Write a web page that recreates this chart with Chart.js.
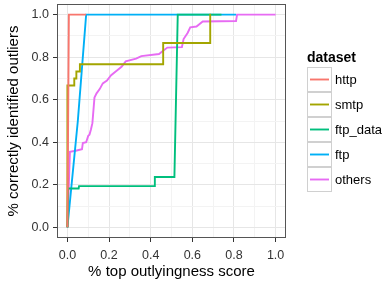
<!DOCTYPE html>
<html lang="en">
<head>
<meta charset="UTF-8">
<title>Outlier detection</title>
<script src="https://cdn.jsdelivr.net/npm/chart.js"></script>
<style>
  html, body { margin: 0; padding: 0; background: #fff; }
  #wrap { width: 390px; height: 286px; }
</style>
</head>
<body>
<div id="wrap"><canvas id="graf"></canvas></div>
<script>
// series names and colours (ggplot hue palette)
const seriesNames = ['http', 'smtp', 'ftp_data', 'ftp', 'others'];
const seriesColors = ['#F8766D', '#A3A500', '#00BF7D', '#00B0F6', '#E76BF3'];

// x = % top outlyingness score, y = % correctly identified outliers
const httpX = [0, 0.007, 0.09];
const httpY = [0, 1.0, 1.0];

const smtpX = [0, 0, 0.033, 0.033, 0.043, 0.043, 0.06, 0.06, 0.46, 0.46, 0.686, 0.686, 0.69];
const smtpY = [0, 0.667, 0.667, 0.70, 0.70, 0.733, 0.733, 0.767, 0.767, 0.867, 0.867, 1.0, 1.0];

const ftpDataX = [0, 0.003, 0.054, 0.056, 0.418, 0.42, 0.514, 0.53, 0.74];
const ftpDataY = [0, 0.183, 0.183, 0.194, 0.194, 0.237, 0.237, 1.0, 1.0];

const ftpX = [0, 0.05, 0.09, 0.81];
const ftpY = [0, 0.5, 1.0, 1.0];

const othersX = [0, 0.012, 0.04, 0.07, 0.074, 0.09, 0.1, 0.106, 0.113, 0.12, 0.125, 0.13, 0.14, 0.155, 0.17,
  0.19, 0.21, 0.235, 0.26, 0.28, 0.33, 0.355, 0.44, 0.46, 0.48, 0.55, 0.558, 0.578, 0.59, 0.62, 0.65, 0.81, 0.815, 1.0];
const othersY = [0, 0.355, 0.36, 0.367, 0.396, 0.40, 0.43, 0.435, 0.46, 0.49, 0.55, 0.61, 0.63, 0.65, 0.677,
  0.69, 0.715, 0.735, 0.755, 0.78, 0.793, 0.805, 0.815, 0.83, 0.845, 0.847, 0.885, 0.915, 0.94, 0.944, 0.968, 0.97, 1.0, 1.0];

const seriesX = [httpX, smtpX, ftpDataX, ftpX, othersX];
const seriesY = [httpY, smtpY, ftpDataY, ftpY, othersY];

const majorTicks = [0, 0.2, 0.4, 0.6, 0.8, 1.0];
const minorTicks = [0.1, 0.3, 0.5, 0.7, 0.9];
const xTitle = '% top outlyingness score';
const yTitle = '% correctly identified outliers';
const legendTitle = 'dataset';

const FONT = '"Liberation Sans", Arial, sans-serif';
const isMajor = v => majorTicks.some(m => Math.abs(m - v) < 1e-6);

function setTicks(scale) {
  scale.ticks = majorTicks.concat(minorTicks).sort((a, b) => a - b).map(v => ({ value: v }));
}

const axisOpts = {
  type: 'linear',
  min: -0.05,
  max: 1.05,
  afterBuildTicks: setTicks,
  border: { display: false },
  grid: {
    color: c => isMajor(c.tick.value) ? '#E6E6E6' : '#F3F3F3',
    lineWidth: 1,
    tickLength: 4,
    tickColor: c => isMajor(c.tick.value) ? '#333333' : 'rgba(0,0,0,0)'
  },
  ticks: {
    color: '#333333',
    font: { family: FONT, size: 12.5 },
    padding: 4,
    autoSkip: false,
    maxRotation: 0,
    callback: v => isMajor(v) ? v.toFixed(1) : ''
  }
};

const datasets = seriesNames.map((name, i) => ({
  label: name,
  data: seriesX[i].map((x, j) => ({ x: x, y: seriesY[i][j] })),
  borderColor: seriesColors[i],
  backgroundColor: seriesColors[i],
  borderWidth: 1.9,
  pointRadius: 0,
  tension: 0,
  fill: false
}));

const panelBorder = {
  id: 'panelBorder',
  afterDatasetsDraw(chart) {
    const a = chart.chartArea;
    const ctx = chart.ctx;
    ctx.save();
    ctx.strokeStyle = '#555555';
    ctx.lineWidth = 1;
    ctx.strokeRect(Math.round(a.left) + 0.5, Math.round(a.top) + 0.5,
      Math.round(a.right - a.left) - 1, Math.round(a.bottom - a.top) - 1);
    ctx.restore();
  }
};

const ggLegend = {
  id: 'ggLegend',
  afterDraw(chart) {
    const ctx = chart.ctx;
    const x0 = 307, y0 = 67, key = 25;
    ctx.save();
    ctx.fillStyle = '#000';
    ctx.font = 'bold 14px ' + FONT;
    ctx.textBaseline = 'alphabetic';
    ctx.fillText(legendTitle, x0, 62);
    chart.data.datasets.forEach((ds, i) => {
      const y = y0 + i * key;
      ctx.fillStyle = '#fff';
      ctx.fillRect(x0, y, key, key);
      ctx.strokeStyle = '#D0D0D0';
      ctx.lineWidth = 1;
      ctx.strokeRect(x0 + 0.5, y + 0.5, key - 1, key - 1);
      ctx.strokeStyle = ds.borderColor;
      ctx.lineWidth = 1.9;
      ctx.beginPath();
      ctx.moveTo(x0 + 3, y + key / 2);
      ctx.lineTo(x0 + key - 3, y + key / 2);
      ctx.stroke();
      ctx.fillStyle = '#000';
      ctx.font = '13px ' + FONT;
      ctx.textBaseline = 'middle';
      ctx.fillText(ds.label, x0 + key + 3, y + key / 2 + 1);
    });
    ctx.restore();
  }
};

new Chart(document.getElementById('graf'), {
  type: 'line',
  data: { datasets: datasets },
  plugins: [panelBorder, ggLegend],
  options: {
    responsive: true,
    maintainAspectRatio: false,
    animation: false,
    layout: { padding: { top: 4, right: 104, bottom: 0, left: 0 } },
    plugins: { legend: { display: false }, tooltip: { enabled: false } },
    scales: {
      x: Object.assign({}, axisOpts, {
        position: 'bottom',
        ticks: Object.assign({}, axisOpts.ticks, { padding: 6 }),
        afterFit: s => { s.height = 48; s.paddingLeft = 0; s.paddingRight = 0; },
        title: { display: true, text: xTitle, color: '#000', font: { family: FONT, size: 15 }, padding: { top: 0, bottom: 5 } }
      }),
      y: Object.assign({}, axisOpts, {
        position: 'left',
        afterFit: s => { s.width = 57; s.paddingTop = 0; s.paddingBottom = 0; },
        title: { display: true, text: yTitle, color: '#000', font: { family: FONT, size: 15 }, padding: { top: 5, bottom: 0 } }
      })
    }
  }
});
</script>
</body>
</html>
